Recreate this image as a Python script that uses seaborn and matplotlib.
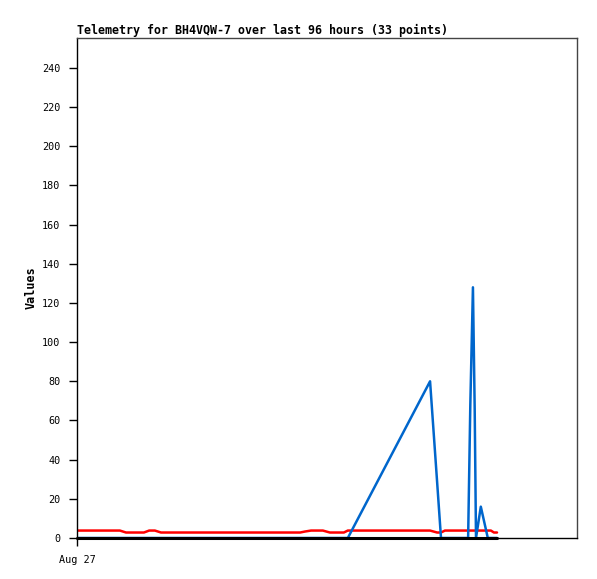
import pandas as pd
import matplotlib
matplotlib.use("Agg")
import matplotlib.pyplot as plt
import seaborn as sns

# zaman (saat, Aug 27 00:00'dan itibaren) ve seriler
hours = [0, 5.0, 9.8, 11.2, 15.3, 16.5, 17.8, 19.2, 25.8, 32.7, 39.5, 46.4,
         51.0, 52.1, 53.5, 56.2, 57.8, 61.0, 61.9, 80.7, 82.3, 83.2, 84.1,
         89.4, 89.9, 90.5, 90.9, 91.2, 92.3, 93.9, 94.6, 95.3, 96.0]
red_vals = [3.8, 3.8, 3.8, 2.8, 2.8, 3.8, 3.8, 2.8, 2.8, 2.8, 2.8, 2.8,
            2.8, 3.3, 3.8, 3.8, 2.8, 2.8, 3.8, 3.8, 2.8, 2.8, 3.8,
            3.8, 3.8, 3.8, 3.8, 3.8, 3.8, 3.8, 3.8, 2.8, 2.8]
blue_vals = [0, 0, 0, 0, 0, 0, 0, 0, 0, 0, 0, 0,
             0, 0, 0, 0, 0, 0, 0, 80, 29, 0, 0,
             0, 68, 128, 66, 0, 16, 0, 0, 0, 0]
black_vals = [0] * len(hours)

df = pd.DataFrame({
    'saat': hours * 2,
    'deger': red_vals + blue_vals,
    'seri': ['r'] * len(hours) + ['b'] * len(hours),
})

sns.set_style("white")
plt.rcParams['font.family'] = ['DejaVu Sans Mono']
plt.rcParams['text.color'] = 'black'

fig = plt.figure(figsize=(5.97, 5.79), dpi=100)
ax = fig.add_axes([77 / 597, 41 / 579, 500 / 597, 500 / 579])

sns.lineplot(data=df, x='saat', y='deger', hue='seri',
             palette={'r': '#ff0000', 'b': '#0066cc'},
             linewidth=1.8, legend=False, ax=ax, estimator=None, sort=False)
# sıfır çizgisi (siyah seri) en üstte
sns.lineplot(x=hours, y=black_vals, color='black', linewidth=2.2, ax=ax,
             estimator=None, clip_on=False, zorder=5)

ax.set_xlim(0, 500 * 96 / 420)
ax.set_ylim(0, 255.3)
ax.set_yticks(range(0, 241, 20))
ax.set_xticks([0])
ax.set_xticklabels(['Aug 27'])
ax.tick_params(axis='both', direction='out', length=6, width=1, colors='black',
               labelsize=7.3, left=True, bottom=True, pad=6)
for s in ax.spines.values():
    s.set_color('#444444')
    s.set_linewidth(1)
ax.spines['left'].set_color('black')
ax.spines['bottom'].set_color('black')

ax.set_xlabel('')
ax.set_ylabel('Values', fontsize=8.5, fontweight='bold', labelpad=3, color='black')
ax.set_title('Telemetry for BH4VQW-7 over last 96 hours (33 points)',
             fontsize=8.4, fontweight='bold', loc='left', pad=3, color='black')

plt.savefig('out.png', dpi=100)
